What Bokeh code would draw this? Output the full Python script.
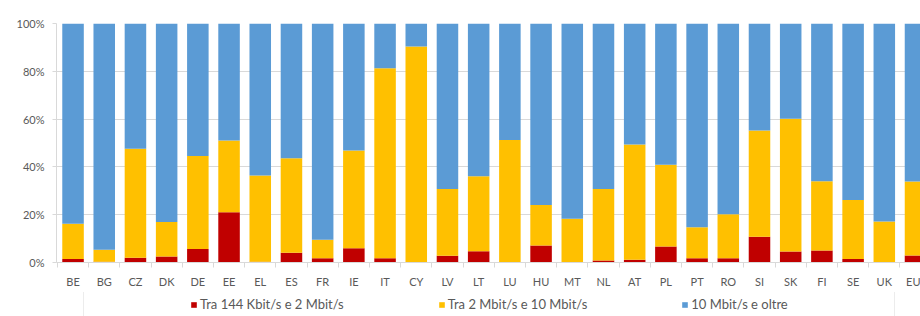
from bokeh.plotting import figure
from bokeh.layouts import column
from bokeh.models import (Range1d, FixedTicker, Legend, LegendItem, ColumnDataSource)
from bokeh.embed import file_html
from bokeh.resources import INLINE

countries = ["BE", "BG", "CZ", "DK", "DE", "EE", "EL", "ES", "FR", "IE", "IT", "CY", "LV", "LT",
             "LU", "HU", "MT", "NL", "AT", "PL", "PT", "RO", "SI", "SK", "FI", "SE", "UK", "EU"]
low = [1.5, 0.3, 2.0, 2.5, 5.7, 21.0, 0.3, 4.1, 1.8, 6.0, 1.8, 0.0, 2.8, 4.7,
       0.0, 7.1, 0.0, 0.8, 1.2, 6.7, 1.8, 1.8, 10.8, 4.6, 5.0, 1.5, 0.0, 2.9]
mid = [14.7, 5.0, 45.6, 14.4, 38.9, 30.0, 36.1, 39.5, 7.7, 40.9, 79.5, 90.4, 28.0, 31.4,
       51.3, 17.0, 18.3, 30.0, 48.2, 34.2, 13.0, 18.4, 44.4, 55.5, 29.0, 24.7, 17.2, 31.0]
high = [83.8, 94.7, 52.4, 83.1, 55.4, 49.0, 63.6, 56.4, 90.5, 53.1, 18.7, 9.6, 69.2, 63.9,
        48.7, 75.9, 81.7, 69.2, 50.6, 59.1, 85.2, 79.8, 44.8, 39.9, 66.0, 73.8, 82.8, 66.1]
series_labels = ["Tra 144 Kbit/s e 2 Mbit/s", "Tra 2 Mbit/s e 10 Mbit/s", "10 Mbit/s e oltre"]
colors = ["#C00000", "#FFC000", "#5B9BD5"]
y_ticks = [0, 20, 40, 60, 80, 100]

pos = list(range(len(countries)))
src = ColumnDataSource(dict(x=pos, low=low, mid=mid, high=high))

FONT = "Lato"
TXT = "#595959"
GRID = "#D9D9D9"

# ---- main chart ----
p = figure(width=920, height=292, output_backend="svg", toolbar_location=None,
           x_range=Range1d(-0.53, 27.16), y_range=Range1d(0, 100),
           min_border_left=56, min_border_right=0, min_border_top=23, min_border_bottom=30)
p.outline_line_color = None
p.background_fill_color = "white"

p.vbar_stack(["low", "mid", "high"], x="x", width=0.69, color=colors, line_color=None,
             source=src)

p.xaxis.ticker = FixedTicker(ticks=pos, minor_ticks=[i - 0.5 for i in pos] + [len(pos) - 0.5])
p.xaxis.major_label_overrides = {i: c for i, c in enumerate(countries)}
p.xaxis.major_tick_line_color = None
p.xaxis.major_tick_out = 0
p.xaxis.major_tick_in = 0
p.xaxis.minor_tick_line_color = GRID
p.xaxis.minor_tick_out = 5
p.xaxis.minor_tick_in = 0
p.xaxis.axis_line_color = GRID
p.xaxis.major_label_standoff = 7
p.xaxis.major_label_text_font = FONT
p.xaxis.major_label_text_font_size = "11px"
p.xaxis.major_label_text_color = TXT

p.yaxis.ticker = FixedTicker(ticks=y_ticks)
p.yaxis.major_label_overrides = {t: f"{t}%" for t in y_ticks}
p.yaxis.minor_tick_line_color = None
p.yaxis.major_tick_line_color = GRID
p.yaxis.major_tick_out = 4
p.yaxis.major_tick_in = 0
p.yaxis.axis_line_color = GRID
p.yaxis.major_label_standoff = 8
p.yaxis.major_label_text_font = FONT
p.yaxis.major_label_text_font_size = "11px"
p.yaxis.major_label_text_color = TXT

p.xgrid.grid_line_color = None
p.ygrid.ticker = FixedTicker(ticks=y_ticks)
p.ygrid.grid_line_color = GRID

# ---- legend strip (separate small figure below the chart) ----
# the swatch renderers use the same data but lie outside this strip's y range,
# so only their legend glyphs are visible
lg = figure(width=920, height=24, output_backend="svg", toolbar_location=None,
            x_range=Range1d(0, 1), y_range=Range1d(200, 300),
            x_axis_location=None, y_axis_location=None,
            min_border_left=0, min_border_right=0, min_border_top=0, min_border_bottom=0)
lg.outline_line_color = None
lg.xgrid.visible = False
lg.ygrid.visible = False

swatches = lg.vbar_stack(["low", "mid", "high"], x="x", width=0.69, color=colors,
                         line_color=None, source=src)
blank = lg.vbar(x="x", top="low", width=0.69, source=src, fill_alpha=0, line_alpha=0)
items = [LegendItem(label=" ", renderers=[blank])]
items += [LegendItem(label=lab, renderers=[r]) for lab, r in zip(series_labels, swatches)]
items += [LegendItem(label=" ", renderers=[blank])]
legend = Legend(items=items, orientation="horizontal", location=(27, -1),
                glyph_width=7, glyph_height=7, label_standoff=3, label_width=0,
                label_height=20, spacing=94, padding=2, margin=0,
                label_text_font=FONT, label_text_font_size="13px", label_text_color=TXT,
                border_line_color=GRID, background_fill_alpha=0)
lg.add_layout(legend, "center")

layout = column(p, lg, spacing=0)
open("out.html", "w").write(file_html(layout, INLINE))
